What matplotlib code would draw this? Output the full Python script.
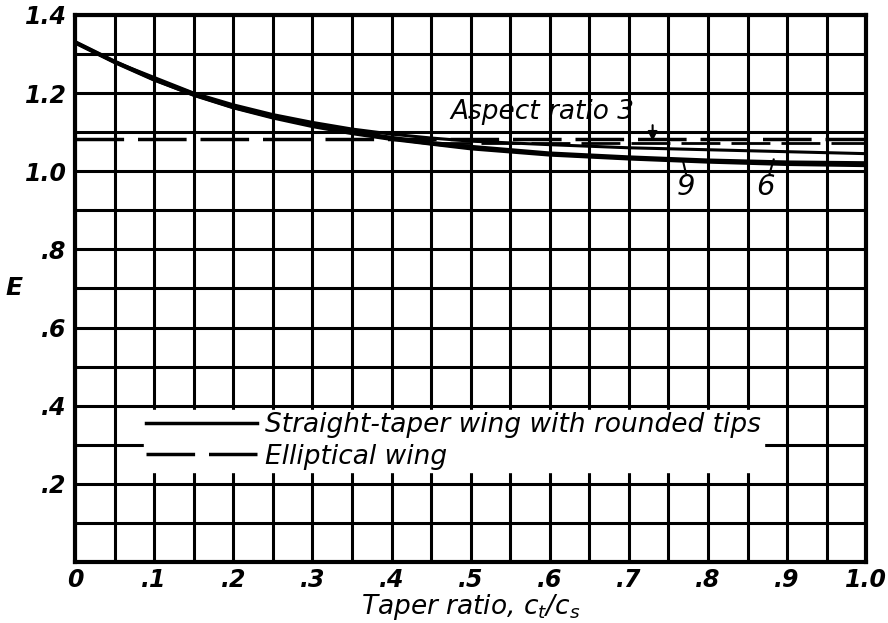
import matplotlib
matplotlib.use("Agg")
import matplotlib.pyplot as plt
from matplotlib.ticker import MultipleLocator

# Data
taper = [0, .05, .1, .15, .2, .25, .3, .35, .4, .45, .5, .6, .7, .8, .9, 1.0]
e_ar3 = [1.33, 1.28, 1.24, 1.20, 1.17, 1.145, 1.125, 1.108, 1.095, 1.085, 1.077, 1.068, 1.06, 1.055, 1.05, 1.045]
e_ar6 = [1.33, 1.28, 1.235, 1.197, 1.165, 1.14, 1.12, 1.10, 1.085, 1.072, 1.062, 1.045, 1.035, 1.027, 1.022, 1.02]
e_ar9 = [1.33, 1.28, 1.235, 1.195, 1.163, 1.137, 1.115, 1.097, 1.082, 1.07, 1.058, 1.042, 1.032, 1.024, 1.018, 1.015]

ellip_x = [0, 1.0]
ellip_ar3 = [1.083, 1.083]
ellip2_x = [0.45, 1.0]
ellip_ar69 = [1.072, 1.072]

xticks = [0, .1, .2, .3, .4, .5, .6, .7, .8, .9, 1.0]
xticklabels = ["0", ".1", ".2", ".3", ".4", ".5", ".6", ".7", ".8", ".9", "1.0"]
yticks = [.2, .4, .6, .8, 1.0, 1.2, 1.4]
yticklabels = [".2", ".4", ".6", ".8", "1.0", "1.2", "1.4"]

font = dict(family="DejaVu Sans", style="italic", weight="bold")
thin = dict(family="DejaVu Sans", style="italic")

fig = plt.figure(figsize=(8.88, 6.23), dpi=100)
ax = fig.add_axes([0.0845, 0.098, 0.891, 0.878])

ax.set_xlim(0, 1.0)
ax.set_ylim(0, 1.4)
ax.xaxis.set_minor_locator(MultipleLocator(0.05))
ax.yaxis.set_minor_locator(MultipleLocator(0.1))
ax.grid(True, which="both", color="black", linewidth=2.2)
ax.set_axisbelow(True)
for s in ax.spines.values():
    s.set_linewidth(3)
ax.tick_params(which="both", length=0)
ax.tick_params(axis="x", pad=4)
ax.tick_params(axis="y", pad=6)

ax.set_xticks(xticks)
ax.set_xticklabels(xticklabels, fontsize=17, **font)
ax.set_yticks(yticks)
ax.set_yticklabels(yticklabels, fontsize=17, **font)

# curves
ax.plot(taper, e_ar3, color="black", linewidth=2.2, label="Straight-taper wing with rounded tips")
ax.plot(taper, e_ar6, color="black", linewidth=3.2)
ax.plot(taper, e_ar9, color="black", linewidth=2.6)
ax.plot(ellip_x, ellip_ar3, color="black", linewidth=2.5, linestyle=(0, (14, 4)), label="Elliptical wing")
ax.plot(ellip2_x, ellip_ar69, color="black", linewidth=2, linestyle=(0, (14, 4)))

# annotations
ax.text(0.475, 1.118, "Aspect ratio 3", fontsize=19, ha="left", va="bottom", **thin)
ax.annotate("", xy=(0.73, 1.07), xytext=(0.73, 1.125),
            arrowprops=dict(arrowstyle="-|>", color="black", lw=1.5, mutation_scale=14))
ax.text(0.772, 0.995, "9", fontsize=21, ha="center", va="top", **thin)
ax.plot([0.772, 0.768], [0.995, 1.03], color="black", linewidth=1.5)
ax.text(0.872, 0.995, "6", fontsize=21, ha="center", va="top", **thin)
ax.plot([0.878, 0.883], [0.995, 1.03], color="black", linewidth=1.5)

leg = ax.legend(loc="lower left", bbox_to_anchor=(0.07, 0.14), frameon=True,
                handlelength=4.2, handletextpad=0.3, labelspacing=0.2,
                borderpad=0.1, prop=dict(style="italic", size=19))
leg.get_frame().set_edgecolor("white")
leg.get_frame().set_facecolor("white")
leg.get_frame().set_alpha(1.0)
for line in leg.get_lines():
    line.set_linewidth(2.5)

ax.set_xlabel("Taper ratio, c$_t$/c$_s$", fontsize=19, labelpad=0, **thin)
ax.set_ylabel("E", fontsize=18, rotation=0, labelpad=8, va="center", **font)

fig.savefig("out.png", dpi=100)
